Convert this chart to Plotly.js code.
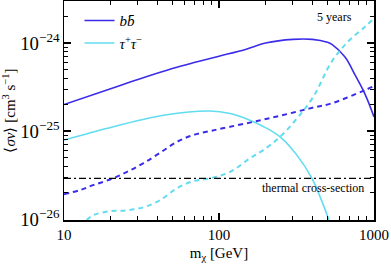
<!DOCTYPE html>
<html>
<head>
<meta charset="utf-8">
<script src="https://cdn.plot.ly/plotly-3.0.1.min.js"></script>
<style>html,body{margin:0;padding:0;background:#fff;}#chart{width:391px;height:265px;}</style>
</head>
<body>
<div id="chart"></div>
<script>
// masses (GeV) and <sigma v> (cm^3 s^-1)
var bbSolidMass = [10, 20, 30, 50, 70, 100, 150, 200, 300, 400, 500, 535, 650, 753, 875, 1000];
var bbSolidSigma = [2.0e-25, 3.02e-25, 3.85e-25, 5.13e-25, 6.03e-25, 7.08e-25, 8.51e-25, 1.0e-24, 1.10e-24, 1.10e-24, 1.02e-24, 9.66e-25, 6.92e-25, 4.37e-25, 2.63e-25, 1.45e-25];

var tauSolidMass = [10, 14.3, 18.4, 44.9, 87.5, 118, 158, 192, 248, 318, 398, 462, 515];
var tauSolidSigma = [7.9e-26, 9.4e-26, 1.06e-25, 1.52e-25, 1.69e-25, 1.58e-25, 1.33e-25, 1.135e-25, 8.6e-26, 5.33e-26, 2.9e-26, 1.58e-26, 9.5e-27];

var bbDashMass = [10, 12.7, 15.4, 19.8, 25.5, 32.4, 41.6, 53.6, 67.9, 87.5, 118, 176, 259, 386, 536, 875, 1000];
var bbDashSigma = [1.92e-26, 2.14e-26, 2.43e-26, 2.82e-26, 3.44e-26, 4.30e-26, 5.66e-26, 7.55e-26, 9.0e-26, 1.0e-25, 1.12e-25, 1.30e-25, 1.52e-25, 1.81e-25, 2.07e-25, 2.92e-25, 3.24e-25];

var tauDashMass = [14.0, 15.5, 19.8, 25.4, 32.5, 41.6, 53.3, 68.2, 87.5, 118, 158, 193, 248, 318, 406, 533, 679, 875, 1000];
var tauDashSigma = [9.75e-27, 1.11e-26, 1.23e-26, 1.26e-26, 1.36e-26, 1.64e-26, 2.23e-26, 2.70e-26, 2.90e-26, 3.44e-26, 4.90e-26, 6.08e-26, 8.61e-26, 1.39e-25, 2.45e-25, 6.13e-25, 1.035e-24, 1.53e-24, 1.91e-24];

var thermalMass = [10, 1000];
var thermalSigma = [2.9e-26, 2.9e-26];

var legendNames = ['<i>b</i><i>b\u0304</i>', '<i>\u03c4</i><sup>+</sup><i>\u03c4</i><sup>\u2212</sup>'];

var blue = '#3b2ce8';
var cyan = '#62dcef';
var serif = 'Liberation Serif, Times New Roman, serif';

var traces = [
  {x: bbSolidMass, y: bbSolidSigma, mode: 'lines', name: legendNames[0], line: {color: blue, width: 1.6, shape: 'spline', smoothing: 1}},
  {x: tauSolidMass, y: tauSolidSigma, mode: 'lines', name: legendNames[1], line: {color: cyan, width: 1.6, shape: 'spline', smoothing: 1}},
  {x: bbDashMass, y: bbDashSigma, mode: 'lines', showlegend: false, line: {color: blue, width: 2, dash: '5px,4px', shape: 'spline', smoothing: 1}},
  {x: tauDashMass, y: tauDashSigma, mode: 'lines', showlegend: false, line: {color: cyan, width: 2, dash: '5px,4px', shape: 'spline', smoothing: 1}},
  {x: thermalMass, y: thermalSigma, mode: 'lines', showlegend: false, line: {color: '#000', width: 1.2, dash: '7px,3px,2px,3px'}}
];

var layout = {
  width: 391, height: 265,
  margin: {l: 64, r: 17, t: 1, b: 45},
  paper_bgcolor: '#fff', plot_bgcolor: '#fff',
  font: {family: serif, size: 15, color: '#000'},
  showlegend: true,
  legend: {x: 0.05, y: 0.985, xanchor: 'left', yanchor: 'top', bgcolor: 'rgba(0,0,0,0)', font: {family: serif, size: 15}, tracegroupgap: 0, itemwidth: 30},
  xaxis: {
    type: 'log', range: [1, 3], dtick: 1, exponentformat: 'none',
    showgrid: false, zeroline: false, showline: true, linecolor: '#000', linewidth: 1.5, mirror: 'allticks',
    ticks: 'inside', ticklen: 7, tickwidth: 1.2, tickcolor: '#000',
    minor: {ticks: 'inside', ticklen: 4, tickwidth: 1, tickcolor: '#000', showgrid: false},
    tickfont: {family: serif, size: 15},
    title: {text: 'm<sub>\u03c7</sub> [GeV]', font: {family: serif, size: 15}, standoff: 6}
  },
  yaxis: {
    type: 'log', range: [-26.01, -23.523], dtick: 1, exponentformat: 'power',
    showgrid: false, zeroline: false, showline: true, linecolor: '#000', linewidth: 1.5, mirror: 'allticks',
    ticks: 'inside', ticklen: 7, tickwidth: 1.2, tickcolor: '#000',
    minor: {ticks: 'inside', ticklen: 4, tickwidth: 1, tickcolor: '#000', showgrid: false},
    tickfont: {family: serif, size: 15},
    title: {text: '\u27e8<i>\u03c3v</i>\u27e9 [cm<sup>3</sup> s<sup>\u22121</sup>]', font: {family: serif, size: 15}, standoff: 6}
  },
  annotations: [
    {xref: 'paper', yref: 'paper', x: 0.935, y: 0.925, xanchor: 'right', yanchor: 'middle', text: '5 years', showarrow: false, font: {family: serif, size: 12}},
    {xref: 'paper', yref: 'y', x: 0.975, y: Math.log10(2.9e-26), yshift: -10, xanchor: 'right', yanchor: 'middle', text: 'thermal cross-section', showarrow: false, font: {family: serif, size: 12}}
  ]
};

Plotly.newPlot('chart', traces, layout, {displayModeBar: false, staticPlot: true});
</script>
</body>
</html>
